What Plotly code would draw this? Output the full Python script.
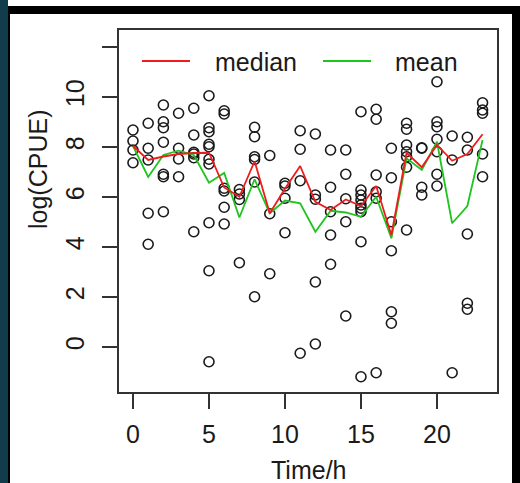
import plotly.graph_objects as go

# ---- data ----
hours_pts = (
    [0]*4 + [1]*5 + [2]*7 + [3]*4 + [4]*6 + [5]*10 + [6]*6 + [7]*4 + [8]*6 + [9]*3 +
    [10]*4 + [11]*4 + [12]*5 + [13]*5 + [14]*5 + [15]*9 + [16]*6 + [17]*6 + [18]*7 +
    [19]*4 + [20]*7 + [21]*3 + [22]*5 + [23]*5
)
log_cpue = [
    8.68, 8.24, 7.88, 7.37,
    8.95, 7.95, 7.48, 5.35, 4.11,
    9.68, 9.01, 8.77, 8.19, 6.91, 6.81, 5.41,
    9.35, 7.95, 7.52, 6.81,
    9.55, 8.48, 7.79, 7.72, 7.57, 4.61,
    10.05, 8.77, 8.61, 8.11, 8.01, 7.51, 7.32, 4.97, 3.05, -0.59,
    9.45, 9.32, 6.35, 6.24, 5.59, 4.92,
    6.30, 6.12, 5.90, 3.37,
    8.79, 8.41, 7.61, 7.50, 6.60, 2.01,
    7.66, 5.33, 2.93,
    6.55, 6.44, 5.95, 4.57,
    8.65, 7.91, 6.65, -0.25,
    8.52, 6.08, 5.91, 2.60, 0.12,
    7.88, 6.39, 5.41, 4.48, 3.31,
    7.88, 6.91, 5.93, 5.01, 1.24,
    9.41, 6.28, 6.08, 5.88, 5.68, 5.55, 5.41, 4.21, -1.19,
    9.51, 9.11, 6.88, 6.21, 5.95, -1.03,
    7.95, 6.77, 5.01, 3.85, 1.41, 0.95,
    8.95, 8.71, 8.08, 7.81, 7.61, 7.19, 4.68,
    7.97, 7.95, 6.39, 6.08,
    10.61, 9.01, 8.81, 8.31, 7.81, 6.91, 6.44,
    8.44, 7.48, -1.03,
    8.39, 7.88, 4.52, 1.75, 1.51,
    9.77, 9.48, 9.35, 7.72, 6.81,
]
hours = list(range(24))
median_vals = [8.04, 7.48, 7.62, 7.72, 7.76, 7.77, 6.38, 6.01, 7.43, 5.35, 6.33, 7.24,
               5.81, 5.48, 5.90, 5.64, 6.44, 4.48, 7.77, 7.19, 8.08, 7.45, 7.72, 8.51]
mean_vals = [8.04, 6.80, 7.68, 7.85, 7.68, 6.57, 6.96, 5.18, 6.71, 5.35, 5.86, 5.75,
             4.61, 5.45, 5.38, 5.21, 6.01, 4.35, 7.55, 7.08, 8.21, 4.95, 5.64, 8.28]
x_ticks = [0, 5, 10, 15, 20]
y_ticks = [0, 2, 4, 6, 8, 10, 12]
y_ticktext = ["0", "2", "4", "6", "8", "10", ""]
legend_labels = ["median", "mean"]

# ---- layout geometry (pixels) ----
W, H = 520, 483
L, R, T, B = 119, 497, 30, 392
PW, PH = R - L, B - T


def px(x):
    return (x - L) / PW


def py(y):
    return (B - y) / PH


FONT = "Liberation Sans, Arial, sans-serif"
INK = "#1a1a1a"
RED = "#ee1c1c"
GREEN = "#1fc41f"

fig = go.Figure()
fig.add_trace(go.Scatter(
    x=hours_pts, y=log_cpue, mode="markers",
    marker=dict(symbol="circle-open", size=10, color=INK, line=dict(width=1.6, color=INK)),
    hoverinfo="x+y", showlegend=False))
fig.add_trace(go.Scatter(x=hours, y=mean_vals, mode="lines",
                         line=dict(color=GREEN, width=1.8), showlegend=False))
fig.add_trace(go.Scatter(x=hours, y=median_vals, mode="lines",
                         line=dict(color=RED, width=1.8), showlegend=False))

axis_common = dict(showgrid=False, zeroline=False, showline=True, mirror=True,
                   linecolor="#333333", linewidth=1.5, ticks="outside", ticklen=15,
                   tickwidth=1.5, tickcolor="#333333",
                   tickfont=dict(family=FONT, size=25, color=INK))

fig.update_xaxes(range=[-0.92, 23.95], tickvals=x_ticks, ticklabelstandoff=4, **axis_common)
fig.update_yaxes(range=[-1.8, 12.68], tickvals=y_ticks, ticktext=y_ticktext,
                 tickangle=-90, ticklabelstandoff=8, **axis_common)

annotations = [
    dict(x=px(308), y=py(470), xref="paper", yref="paper", text="Time/h", showarrow=False,
         font=dict(family=FONT, size=25, color=INK), xanchor="center", yanchor="middle"),
    dict(x=px(38), y=py(170), xref="paper", yref="paper", text="log(CPUE)", showarrow=False,
         textangle=-90, font=dict(family=FONT, size=25, color=INK),
         xanchor="center", yanchor="middle"),
    dict(x=px(213), y=py(62), xref="paper", yref="paper", text=legend_labels[0], showarrow=False,
         font=dict(family=FONT, size=25, color=INK), xanchor="left", yanchor="middle"),
    dict(x=px(393), y=py(62), xref="paper", yref="paper", text=legend_labels[1], showarrow=False,
         font=dict(family=FONT, size=25, color=INK), xanchor="left", yanchor="middle"),
]

shapes = [
    # legend keys
    dict(type="line", xref="paper", yref="paper", x0=px(142), x1=px(190), y0=py(61), y1=py(61),
         line=dict(color=RED, width=1.8)),
    dict(type="line", xref="paper", yref="paper", x0=px(323), x1=px(371), y0=py(61), y1=py(61),
         line=dict(color=GREEN, width=1.8)),
    # outer frame
    dict(type="rect", xref="paper", yref="paper", x0=px(0), x1=px(8), y0=py(483), y1=py(0),
         fillcolor="#123c4b", line=dict(width=0), layer="above"),
    dict(type="rect", xref="paper", yref="paper", x0=px(8), x1=px(520), y0=py(14), y1=py(6),
         fillcolor="#000000", line=dict(width=0), layer="above"),
    dict(type="rect", xref="paper", yref="paper", x0=px(8), x1=px(10), y0=py(483), y1=py(6),
         fillcolor="#000000", line=dict(width=0), layer="above"),
    dict(type="rect", xref="paper", yref="paper", x0=px(512), x1=px(520), y0=py(483), y1=py(6),
         fillcolor="#000000", line=dict(width=0), layer="above"),
]

fig.update_layout(
    width=W, height=H, autosize=False,
    margin=dict(l=L, r=W - R, t=T, b=H - B, pad=0),
    paper_bgcolor="white", plot_bgcolor="white",
    showlegend=False, annotations=annotations, shapes=shapes,
    font=dict(family=FONT, size=25, color=INK),
)

fig.write_html("out.html")
